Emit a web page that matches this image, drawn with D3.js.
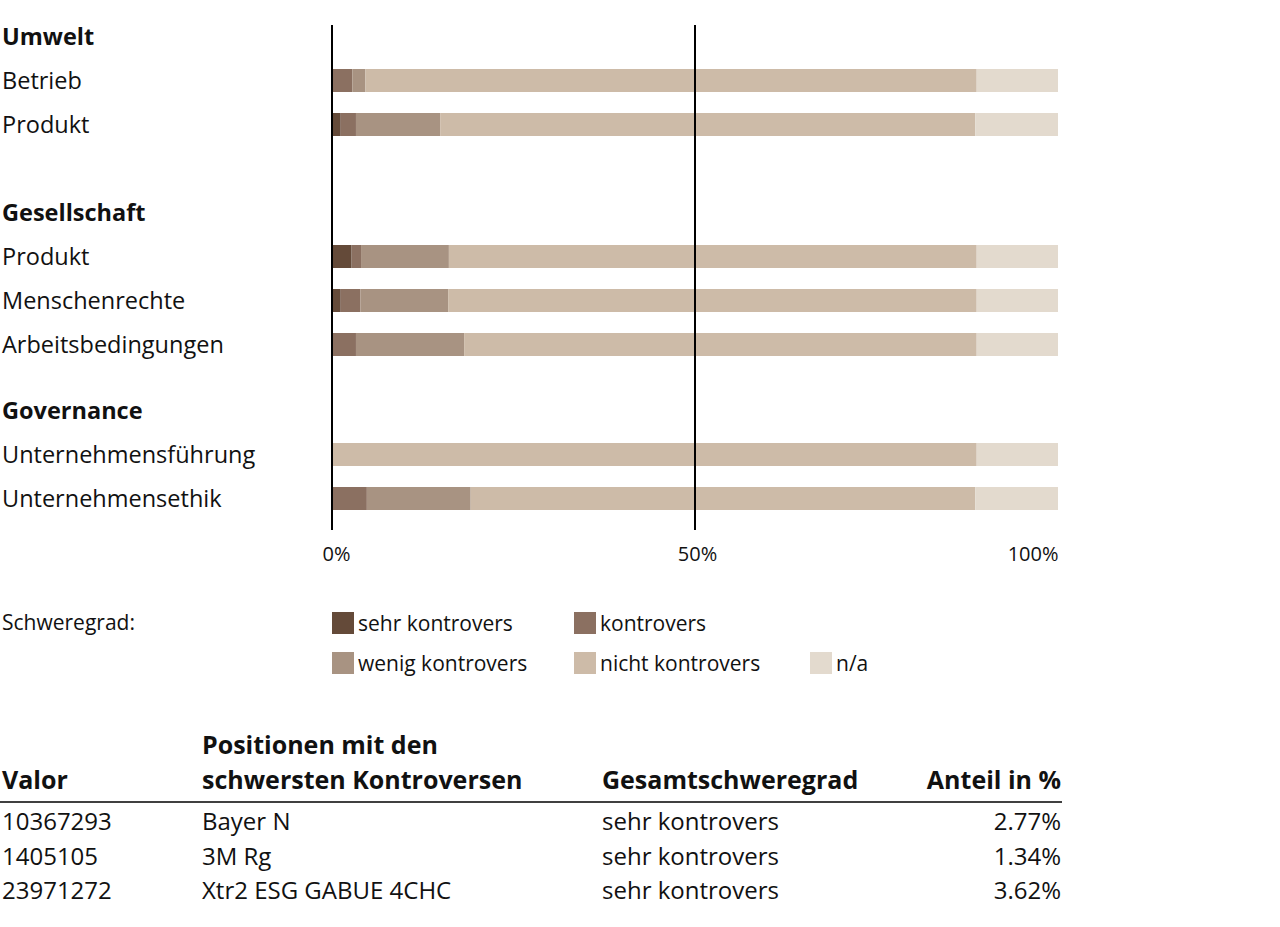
<!DOCTYPE html>
<html><head><meta charset="utf-8">
<script src="https://cdn.jsdelivr.net/npm/d3@7"></script>
<style>
body{margin:0;background:#fff;}
svg text{font-family:"Open Sans","Noto Sans",sans-serif;fill:#111;}
</style></head><body>
<svg id="c" width="1280" height="927"></svg>
<script>
// ---- data ----
const groups = ["Umwelt", "Gesellschaft", "Governance"];
const rowGroups = [0, 0, 1, 1, 1, 2, 2];
const rowLabels = ["Betrieb", "Produkt", "Produkt", "Menschenrechte", "Arbeitsbedingungen", "Unternehmensführung", "Unternehmensethik"];
const seriesNames = ["sehr kontrovers", "kontrovers", "wenig kontrovers", "nicht kontrovers", "n/a"];
const sehr       = [0,    1.2,  2.7,  1.2,  0,    0,    0];
const kontrovers = [2.8,  2.1,  1.3,  2.7,  3.3,  0,    4.8];
const wenig      = [1.8,  11.6, 12.1, 12.1, 14.9, 0,    14.3];
const nicht      = [84.2, 73.7, 72.7, 72.8, 70.6, 88.8, 69.5];
const na         = [11.2, 11.4, 11.2, 11.2, 11.2, 11.2, 11.4];
const tickValues = [0, 50, 100];
const tickLabels = ["0%", "50%", "100%"];
const gridValues = [0, 50];
const tableHeader = [["Valor"], ["Positionen mit den", "schwersten Kontroversen"], ["Gesamtschweregrad"], ["Anteil in %"]];
const tableValor = ["10367293", "1405105", "23971272"];
const tableName = ["Bayer N", "3M Rg", "Xtr2 ESG GABUE 4CHC"];
const tableSeverity = ["sehr kontrovers", "sehr kontrovers", "sehr kontrovers"];
const tableShare = [2.77, 1.34, 3.62];

// ---- layout ----
const colors = ["#644a39", "#8b7061", "#a89382", "#cdbba8", "#e3dace"];
const svg = d3.select("#c");
const x = d3.scaleLinear().domain([0, 100]).range([332, 1058]);
const rowStep = 44, top0 = 37;
const groupGapAfter = [1, 0.5, 0];

const rows = [];
let slot = 0;
groups.forEach((g, gi) => {
  rows.push({type: "h", label: g, slot: slot}); slot += 1;
  rowLabels.forEach((l, i) => {
    if (rowGroups[i] === gi) { rows.push({type: "r", label: l, idx: i, slot: slot}); slot += 1; }
  });
  slot += groupGapAfter[gi];
});
const y = d3.scaleLinear().domain([0, 1]).range([top0, top0 + rowStep]);

const data = rowLabels.map((l, i) => ({i, "sehr kontrovers": sehr[i], "kontrovers": kontrovers[i], "wenig kontrovers": wenig[i], "nicht kontrovers": nicht[i], "n/a": na[i]}));
const stack = d3.stack().keys(seriesNames)(data);
const slotOf = {};
rows.filter(r => r.type === "r").forEach(r => slotOf[r.idx] = r.slot);
const barH = 23;

svg.append("g").selectAll("g").data(stack).join("g")
  .attr("fill", (d, i) => colors[i])
  .selectAll("rect").data(d => d).join("rect")
  .attr("x", d => x(d[0]))
  .attr("width", d => Math.max(0, x(d[1]) - x(d[0])))
  .attr("y", d => y(slotOf[d.data.i]) - barH / 2 - 0.5)
  .attr("height", barH);

// row labels
svg.append("g").selectAll("text").data(rows).join("text")
  .attr("x", 2).attr("y", d => y(d.slot)).attr("dy", "0.36em")
  .style("font-size", d => d.type === "h" ? "23.5px" : "23.5px")
  .style("font-weight", d => d.type === "h" ? "700" : "400")
  .text(d => d.label);

// vertical lines
svg.append("g").selectAll("line").data(gridValues).join("line")
  .attr("x1", d => x(d)).attr("x2", d => x(d))
  .attr("y1", 25).attr("y2", 530)
  .attr("stroke", "#000").attr("stroke-width", 2);

// axis
const axis = d3.axisBottom(x).tickValues(tickValues).tickFormat((d, i) => tickLabels[i]).tickSize(0).tickPadding(0);
const ag = svg.append("g").attr("transform", "translate(0,547)").call(axis);
ag.select(".domain").remove();
ag.selectAll("text").style("font-size", "20px").style("font-family", '"Open Sans","Noto Sans",sans-serif').attr("fill", "#111")
  .attr("text-anchor", (d, i) => i === tickValues.length - 1 ? "end" : "middle")
  .attr("dx", (d, i) => i === 0 ? "4" : (i === tickValues.length - 1 ? "0" : "2"));

// legend
svg.append("text").attr("x", 2).attr("y", 622).attr("dy", "0.36em").style("font-size", "21px").text("Schweregrad:");
const legPos = [[332, 623], [574, 623], [332, 663], [574, 663], [810, 663]];
const lg = svg.append("g").selectAll("g").data(seriesNames).join("g")
  .attr("transform", (d, i) => `translate(${legPos[i][0]},${legPos[i][1]})`);
lg.append("rect").attr("x", 0).attr("y", -11).attr("width", 22).attr("height", 22).attr("fill", (d, i) => colors[i]);
lg.append("text").attr("x", 26).attr("dy", "0.36em").style("font-size", "21px").text(d => d);

// table
const colX = [2, 202, 602, 1061];
const hg = svg.append("g");
tableHeader.forEach((lines, ci) => {
  lines.forEach((t, li) => {
    hg.append("text").attr("x", colX[ci]).attr("y", 789 - (lines.length - 1 - li) * 35)
      .attr("text-anchor", ci === 3 ? "end" : "start")
      .style("font-size", "25px").style("font-weight", "700").text(t);
  });
});
svg.append("line").attr("x1", 0).attr("x2", 1062).attr("y1", 802).attr("y2", 802).attr("stroke", "#000").attr("stroke-width", 1.5);
const tb = svg.append("g").selectAll("g").data(tableValor).join("g")
  .attr("transform", (d, i) => `translate(0,${830 + i * 34.5})`);
tb.append("text").attr("x", colX[0]).style("font-size", "24px").text(d => d);
tb.append("text").attr("x", colX[1]).style("font-size", "24px").text((d, i) => tableName[i]);
tb.append("text").attr("x", colX[2]).style("font-size", "24px").text((d, i) => tableSeverity[i]);
tb.append("text").attr("x", colX[3]).attr("text-anchor", "end").style("font-size", "24px").text((d, i) => tableShare[i].toFixed(2) + "%");
</script>
</body></html>
